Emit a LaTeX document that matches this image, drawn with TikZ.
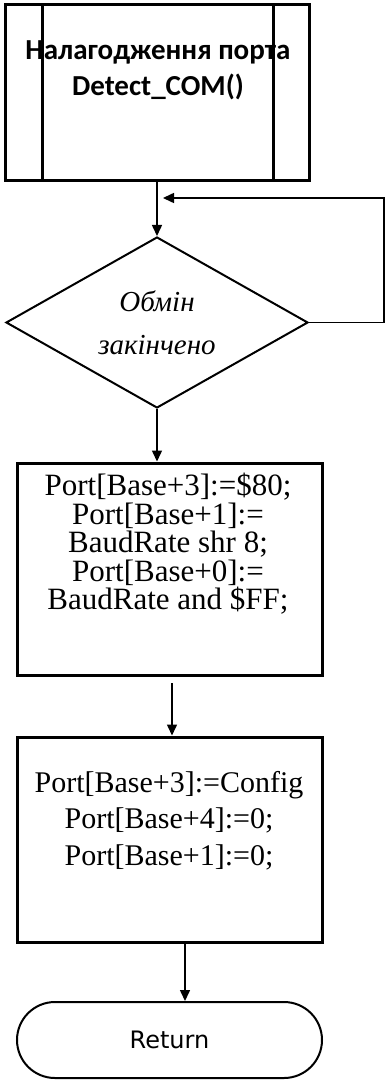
\documentclass[tikz,border=0pt]{standalone}
\usepackage{fontspec}
\setmainfont{Liberation Serif}
\newfontfamily\headfont{Carlito}
\newfontfamily\retfont{DejaVu Sans}
\usetikzlibrary{shapes,arrows.meta}

\begin{document}
\begin{tikzpicture}[x=1pt,y=-1pt]
\tikzstyle{blk}=[draw,line width=3pt,inner sep=0pt];
\tikzstyle{code}=[align=center,font=\fontsize{31}{28.5}\selectfont,inner sep=0pt,anchor=north];
\tikzstyle{arr}=[line width=1.5pt,-{Triangle[length=11pt,width=10pt]}];

\useasboundingbox (0,0) rectangle (385,1081);

% subroutine
\node[blk,minimum width=304pt,minimum height=175pt] (sub) at (157,92.5) {};
\draw[line width=3pt] ([xshift=39pt]sub.north west) -- ([xshift=39pt]sub.south west);
\draw[line width=3pt] ([xshift=-37pt]sub.north east) -- ([xshift=-37pt]sub.south east);
\node[align=center,font=\headfont\bfseries\fontsize{29}{36}\selectfont] (subtxt) at (158,70) {Налагодження порта\\Detect\_COM()};

% decision
\node[draw,diamond,aspect=1.8,line width=2pt,inner sep=0pt,minimum width=302pt,minimum height=171pt,align=center,font=\itshape\fontsize{29}{43}\selectfont] (dec) at (157,322.5) {Обмін\\закінчено};
\coordinate (back) at (163,198);
\draw[arr] (sub) -- (dec);
\draw[arr] (dec.east) -- ++(75,0) |- (back);

% init
\node[blk,minimum width=305pt,minimum height=212pt] (init) at (169.5,569) {};
\node[code] (inittxt) at (168,473) {Port[Base+3]:=\$80;\\Port[Base+1]:=\\BaudRate  shr 8;\\Port[Base+0]:=\\BaudRate  and \$FF;};
\draw[arr] (dec.south) -- (dec.south |- init.north);

% config
\node[blk,minimum width=305pt,minimum height=205pt] (cfg) at (169.5,839.5) {};
\node[code,font=\fontsize{30}{36.5}\selectfont] (cfgtxt) at (169,771) {Port[Base+3]:=Config\\Port[Base+4]:=0;\\Port[Base+1]:=0;};
\coordinate (gap) at (172,683);
\draw[arr] (gap) -- (gap |- cfg.north);

% return
\node[draw,line width=2pt,rounded corners=38pt,minimum width=305pt,minimum height=76pt,font=\retfont\fontsize{24}{28}\selectfont] (ret) at (169.5,1040) {Return};
\draw[arr] ([xshift=15.5pt]cfg.south) -- ([xshift=15.5pt]ret.north);
\end{tikzpicture}
\end{document}
